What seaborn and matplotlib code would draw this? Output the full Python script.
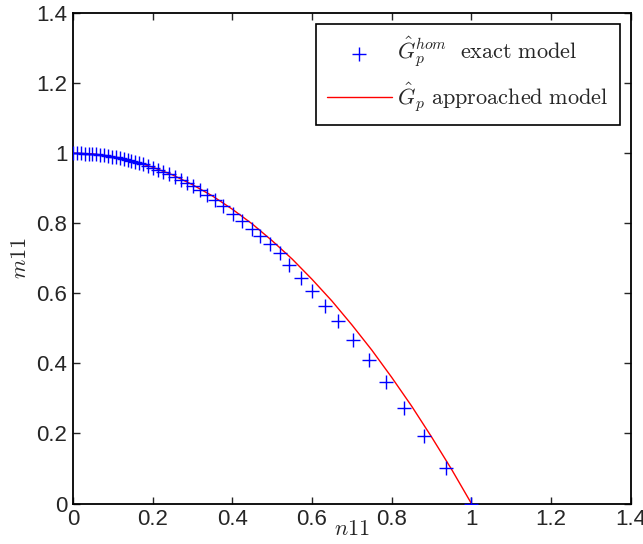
import numpy as np
import pandas as pd
import matplotlib
matplotlib.use("Agg")
import matplotlib.pyplot as plt
import seaborn as sns

# exact model points
n11_exact = [0.000, 0.0098, 0.0196, 0.0294, 0.0391, 0.0489, 0.0587, 0.0685, 0.0783, 0.0881,
             0.0979, 0.1077, 0.1174, 0.1272, 0.1370, 0.1468, 0.1568, 0.1669, 0.1769, 0.1882,
             0.2008, 0.2133, 0.2271, 0.2409, 0.2560, 0.2710, 0.2861, 0.3024, 0.3187, 0.3363,
             0.3563, 0.3772, 0.4008, 0.4233, 0.4484, 0.4693, 0.4944, 0.5194, 0.5428, 0.5721,
             0.6005, 0.6324, 0.6657, 0.7019, 0.7435, 0.7847, 0.8314, 0.8816, 0.9360, 1.000]
m11_exact = [1.000, 1.000, 0.9996, 0.999, 0.998, 0.9975, 0.9965, 0.995, 0.994, 0.992,
             0.990, 0.988, 0.986, 0.984, 0.981, 0.978, 0.975, 0.972, 0.968, 0.964,
             0.959, 0.953, 0.947, 0.940, 0.932, 0.924, 0.915, 0.905, 0.894, 0.881,
             0.866, 0.849, 0.825, 0.806, 0.783, 0.765, 0.742, 0.714, 0.680, 0.644,
             0.607, 0.564, 0.521, 0.466, 0.409, 0.346, 0.273, 0.193, 0.102, 0.000]

# approached model curve
n11_approx = [0.00, 0.05, 0.10, 0.15, 0.20, 0.25, 0.30, 0.35, 0.40, 0.45, 0.50,
              0.55, 0.60, 0.65, 0.70, 0.75, 0.80, 0.85, 0.90, 0.95, 1.00]
m11_approx = [1.000, 0.998, 0.990, 0.978, 0.960, 0.938, 0.910, 0.878, 0.840, 0.798, 0.750,
              0.698, 0.640, 0.578, 0.510, 0.438, 0.360, 0.278, 0.190, 0.098, 0.000]

ticks = [0, 0.2, 0.4, 0.6, 0.8, 1, 1.2, 1.4]
tick_labels = ["0", "0.2", "0.4", "0.6", "0.8", "1", "1.2", "1.4"]

sns.set_style("white")
plt.rcParams['font.family'] = ['Liberation Sans', 'DejaVu Sans']
plt.rcParams['mathtext.fontset'] = 'cm'

exact = pd.DataFrame({"n11": n11_exact, "m11": m11_exact})
approx = pd.DataFrame({"n11": n11_approx, "m11": m11_approx})

fig = plt.figure(figsize=(6.43, 5.44), dpi=100)
ax = fig.add_axes([0.1135, 0.0744, 0.8675, 0.9016])

sns.scatterplot(data=exact, x="n11", y="m11", marker="+", s=110, color="blue",
                linewidth=1.0, ax=ax, zorder=3,
                label=r"$\hat{G}_p^{hom}\ \ \mathrm{exact\ model}$")
sns.lineplot(data=approx, x="n11", y="m11", color="red", linewidth=1.0, ax=ax,
             zorder=2, label=r"$\hat{G}_p\ \mathrm{approached\ model}$")

ax.set_xlim(0, 1.4)
ax.set_ylim(0, 1.4)
ax.set_xticks(ticks)
ax.set_xticklabels(tick_labels)
ax.set_yticks(ticks)
ax.set_yticklabels(tick_labels)
ax.tick_params(direction="in", length=5, width=1, labelsize=16, top=True, right=True,
               bottom=True, left=True, pad=4)
for sp in ax.spines.values():
    sp.set_color("black")
    sp.set_linewidth(1.3)

ax.set_xlabel(r"$n11$", fontsize=16, labelpad=-8)
ax.set_ylabel(r"$m11$", fontsize=16, labelpad=4)

leg = ax.legend(loc="upper right", fontsize=16, frameon=True, fancybox=False,
                edgecolor="black", framealpha=1, handlelength=2.9, handletextpad=0.25,
                borderpad=0.5, labelspacing=0.45, borderaxespad=0.5)
leg.get_frame().set_linewidth(1.2)

fig.savefig("out.png", dpi=100)
